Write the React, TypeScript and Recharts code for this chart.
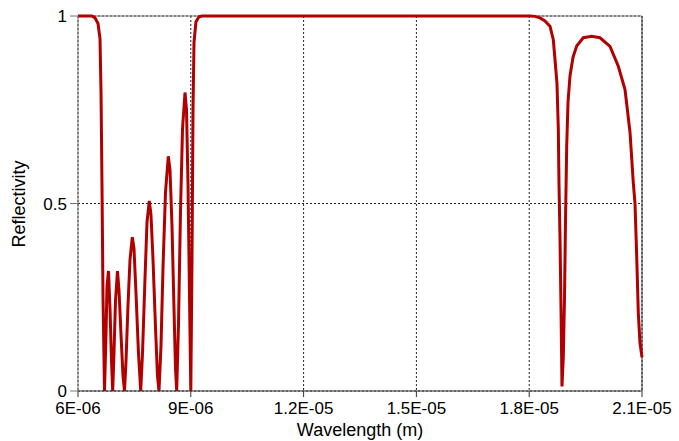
import { LineChart, Line, XAxis, YAxis, CartesianGrid, ReferenceLine, Label } from "recharts";

// wavelength in micrometres (axis shows metres)
const wavelength = [
  6.0, 6.372, 6.452, 6.532, 6.585, 6.612, 6.638, 6.665, 6.705,
  6.745, 6.771, 6.811, 6.851, 6.891, 6.923,
  6.957, 6.997, 7.05, 7.09, 7.144, 7.197, 7.237,
  7.277, 7.33, 7.383, 7.444, 7.489, 7.543, 7.609, 7.668,
  7.715, 7.782, 7.835, 7.896, 7.941, 7.995, 8.061, 8.114, 8.154,
  8.207, 8.261, 8.327, 8.402, 8.447, 8.5, 8.553, 8.593, 8.625,
  8.673, 8.726, 8.78, 8.846, 8.886, 8.926, 8.966, 9.0,
  9.032, 9.059, 9.085, 9.138, 9.218, 9.298,
  18.021, 18.154, 18.287, 18.42, 18.553, 18.641, 18.686, 18.739, 18.774, 18.793,
  18.819, 18.846, 18.872, 18.907, 18.939, 18.965, 18.997, 19.032, 19.085, 19.165,
  19.263, 19.439, 19.662, 19.883, 20.149, 20.37, 20.548, 20.681, 20.769, 20.814,
  20.859, 20.902, 20.947, 21.0,
];

const reflectivity = [
  1.0, 1.0, 0.995, 0.98, 0.94, 0.8, 0.55, 0.25, 0.0,
  0.15, 0.28, 0.32, 0.22, 0.08, 0.0,
  0.1, 0.24, 0.32, 0.27, 0.15, 0.04, 0.0,
  0.08, 0.23, 0.35, 0.41, 0.38, 0.26, 0.1, 0.0,
  0.1, 0.3, 0.45, 0.507, 0.47, 0.35, 0.17, 0.04, 0.0,
  0.12, 0.33, 0.53, 0.626, 0.59, 0.44, 0.22, 0.06, 0.0,
  0.18, 0.48, 0.7, 0.796, 0.75, 0.55, 0.25, 0.0,
  0.35, 0.75, 0.93, 0.985, 0.998, 1.0,
  1.0, 0.999, 0.995, 0.987, 0.973, 0.937, 0.884, 0.82, 0.7, 0.55,
  0.41, 0.22, 0.012, 0.09, 0.25, 0.45, 0.65, 0.77, 0.84, 0.89,
  0.92, 0.942, 0.946, 0.942, 0.919, 0.866, 0.804, 0.69, 0.555, 0.5,
  0.36, 0.207, 0.128, 0.09,
];

const xTicks = [6, 9, 12, 15, 18, 21];
const xTickLabels = ["6E-06", "9E-06", "1.2E-05", "1.5E-05", "1.8E-05", "2.1E-05"];
const yTicks = [0, 0.5, 1];
const yTickLabels = ["0", "0.5", "1"];

const data = wavelength.map((w, i) => ({ w, r: reflectivity[i] }));

const font = "'Liberation Sans', Arial, sans-serif";

export default function App() {
  return (
    <div style={{ position: "absolute", left: 0, top: 0, background: "#fff" }}>
      <LineChart width={679} height={441} data={data} margin={{ top: 16, right: 37, bottom: 0, left: 0 }}>
        <CartesianGrid stroke="#222" strokeDasharray="2 2" />
        <XAxis
          dataKey="w"
          type="number"
          domain={[6, 21]}
          ticks={xTicks}
          tickFormatter={(v) => xTickLabels[xTicks.indexOf(v)]}
          height={50}
          tickSize={6}
          tickMargin={5}
          stroke="#333"
          tick={{ fill: "#000", fontSize: 17, fontFamily: font }}
        >
          <Label value="Wavelength (m)" position="insideBottom" offset={5} style={{ fill: "#000", fontSize: 18, fontFamily: font }} />
        </XAxis>
        <YAxis
          type="number"
          domain={[0, 1]}
          ticks={yTicks}
          tickFormatter={(v) => yTickLabels[yTicks.indexOf(v)]}
          width={78}
          tickSize={8}
          tickMargin={3}
          stroke="#777"
          tick={{ fill: "#000", fontSize: 17, fontFamily: font }}
        >
          <Label
            content={() => (
              <text x={19} y={204} transform="rotate(-90 19 204)" textAnchor="middle" dominantBaseline="central"
                style={{ fill: "#000", fontSize: 18, fontFamily: font }}>
                Reflectivity
              </text>
            )}
          />
        </YAxis>
        <ReferenceLine y={1} stroke="#777" strokeWidth={1} />
        <ReferenceLine x={21} stroke="#333" strokeWidth={1} />
        <Line type="linear" dataKey="r" stroke="#b00000" strokeWidth={3} dot={false} isAnimationActive={false} />
      </LineChart>
    </div>
  );
}
